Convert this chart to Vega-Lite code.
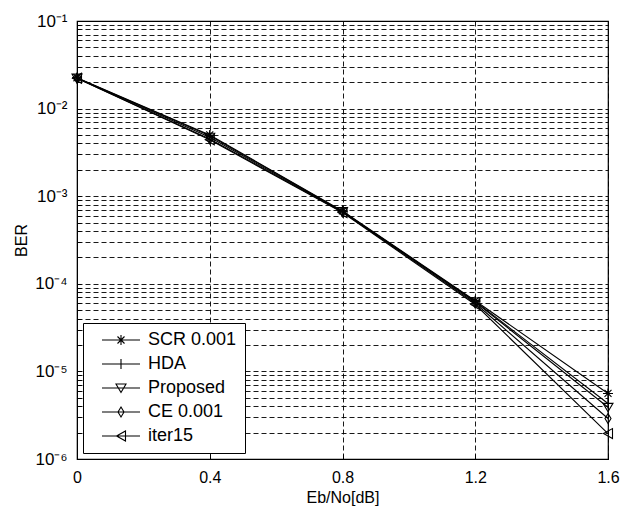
{
  "$schema": "https://vega.github.io/schema/vega-lite/v6.json",
  "width": 531,
  "height": 438,
  "autosize": {"type": "none"},
  "padding": {"left": 77, "top": 21, "right": 26, "bottom": 57},
  "background": "white",
  "config": {
    "view": {"stroke": "black", "strokeWidth": 1.2},
    "font": "Liberation Sans",
    "axis": {
      "labelFont": "Liberation Sans",
      "titleFont": "Liberation Sans",
      "labelColor": "black",
      "titleColor": "black",
      "titleFontWeight": "normal",
      "domainColor": "black",
      "tickColor": "black",
      "gridColor": "black",
      "gridDash": [5, 3],
      "gridOpacity": 0.9,
      "gridWidth": 1
    }
  },
  "data": {
    "values": [
      {"ebno": 0, "ber": 0.0225, "series": "SCR 0.001"},
      {"ebno": 0.4, "ber": 0.0050, "series": "SCR 0.001"},
      {"ebno": 0.8, "ber": 0.00068, "series": "SCR 0.001"},
      {"ebno": 1.2, "ber": 0.000064, "series": "SCR 0.001"},
      {"ebno": 1.6, "ber": 0.0000056, "series": "SCR 0.001"},
      {"ebno": 0, "ber": 0.0224, "series": "HDA"},
      {"ebno": 0.4, "ber": 0.0049, "series": "HDA"},
      {"ebno": 0.8, "ber": 0.00067, "series": "HDA"},
      {"ebno": 1.2, "ber": 0.000063, "series": "HDA"},
      {"ebno": 1.6, "ber": 0.0000043, "series": "HDA"},
      {"ebno": 0, "ber": 0.0223, "series": "Proposed"},
      {"ebno": 0.4, "ber": 0.0047, "series": "Proposed"},
      {"ebno": 0.8, "ber": 0.00067, "series": "Proposed"},
      {"ebno": 1.2, "ber": 0.000062, "series": "Proposed"},
      {"ebno": 1.6, "ber": 0.0000039, "series": "Proposed"},
      {"ebno": 0, "ber": 0.0222, "series": "CE 0.001"},
      {"ebno": 0.4, "ber": 0.0045, "series": "CE 0.001"},
      {"ebno": 0.8, "ber": 0.00066, "series": "CE 0.001"},
      {"ebno": 1.2, "ber": 0.000060, "series": "CE 0.001"},
      {"ebno": 1.6, "ber": 0.0000029, "series": "CE 0.001"},
      {"ebno": 0, "ber": 0.0222, "series": "iter15"},
      {"ebno": 0.4, "ber": 0.0044, "series": "iter15"},
      {"ebno": 0.8, "ber": 0.00065, "series": "iter15"},
      {"ebno": 1.2, "ber": 0.000058, "series": "iter15"},
      {"ebno": 1.6, "ber": 0.00000195, "series": "iter15"}
    ]
  },
  "encoding": {
    "x": {
      "field": "ebno",
      "type": "quantitative",
      "scale": {"domain": [0, 1.6], "nice": false},
      "axis": {
        "title": "Eb/No[dB]",
        "values": [0, 0.4, 0.8, 1.2, 1.6],
        "format": "~g",
        "labelFontSize": 16,
        "titleFontSize": 16,
        "tickSize": -5,
        "labelPadding": 15,
        "titlePadding": 4,
        "labelFlush": false
      }
    },
    "y": {
      "field": "ber",
      "type": "quantitative",
      "scale": {"type": "log", "domain": [0.000001, 0.1], "nice": false},
      "axis": {
        "title": "BER",
        "values": [0.000001, 0.000002, 0.000003, 0.000004, 0.000005, 0.000006, 0.000007, 0.000008, 0.000009,
                   0.00001, 0.00002, 0.00003, 0.00004, 0.00005, 0.00006, 0.00007, 0.00008, 0.00009,
                   0.0001, 0.0002, 0.0003, 0.0004, 0.0005, 0.0006, 0.0007, 0.0008, 0.0009,
                   0.001, 0.002, 0.003, 0.004, 0.005, 0.006, 0.007, 0.008, 0.009,
                   0.01, 0.02, 0.03, 0.04, 0.05, 0.06, 0.07, 0.08, 0.09, 0.1],
        "labelExpr": "abs(log(datum.value)/LN10 - round(log(datum.value)/LN10)) < 0.001 ? '10' + (round(log(datum.value)/LN10) == -1 ? '⁻¹' : round(log(datum.value)/LN10) == -2 ? '⁻²' : round(log(datum.value)/LN10) == -3 ? '⁻³' : round(log(datum.value)/LN10) == -4 ? '⁻⁴' : round(log(datum.value)/LN10) == -5 ? '⁻⁵' : '⁻⁶') : ''",
        "labelOverlap": false,
        "labelBound": false,
        "labelFlush": false,
        "labelFontSize": 17,
        "titleFontSize": 16,
        "tickSize": -4,
        "labelPadding": 14,
        "titlePadding": 5
      }
    }
  },
  "layer": [
    {
      "mark": {"type": "line", "color": "black", "strokeWidth": 1.1},
      "encoding": {"detail": {"field": "series"}}
    },
    {
      "mark": {"type": "point", "filled": false, "color": "black", "size": 100, "strokeWidth": 1.1, "opacity": 1},
      "encoding": {
        "shape": {
          "field": "series",
          "type": "nominal",
          "scale": {
            "domain": ["SCR 0.001", "HDA", "Proposed", "CE 0.001", "iter15"],
            "range": [
              "M-1,0H1M0,-1V1M-0.7,-0.7L0.7,0.7M-0.7,0.7L0.7,-0.7",
              "M-1,0H1M0,-1V1",
              "M-1,-0.8L1,-0.8L0,0.9Z",
              "M0,-1L0.6,0L0,1L-0.6,0Z",
              "M-0.9,0L0.9,-1L0.9,1Z"
            ]
          },
          "legend": null
        }
      }
    },
    {
      "mark": {"type": "point", "filled": false, "color": "black", "size": 100, "strokeWidth": 1.1, "opacity": 0},
      "encoding": {
        "shape": {
          "field": "series",
          "type": "nominal",
          "scale": {
            "domain": ["SCR 0.001", "HDA", "Proposed", "CE 0.001", "iter15"],
            "range": [
              "M-3.8,0H3.8M0,-1V1M-0.7,-0.7L0.7,0.7M-0.7,0.7L0.7,-0.7",
              "M-3.8,0H3.8M0,-1V1",
              "M-3.8,0H3.8M-1,-0.8L1,-0.8L0,0.9Z",
              "M-3.8,0H3.8M0,-1L0.6,0L0,1L-0.6,0Z",
              "M-3.8,0H3.8M-0.9,0L0.9,-1L0.9,1Z"
            ]
          },
          "legend": {
            "title": null,
            "orient": "bottom-left",
            "offset": 6,
            "fillColor": "white",
            "strokeColor": "black",
            "padding": 8,
            "labelFont": "Liberation Sans",
            "labelFontSize": 18,
            "labelColor": "black",
            "symbolSize": 100,
            "symbolOpacity": 1,
            "symbolStrokeColor": "black",
            "symbolStrokeWidth": 1.1,
            "symbolFillColor": "transparent",
            "symbolOffset": 21,
            "labelOffset": 18,
            "rowPadding": 6
          }
        }
      }
    }
  ],
  "resolve": {"scale": {"shape": "independent"}, "legend": {"shape": "independent"}}
}
